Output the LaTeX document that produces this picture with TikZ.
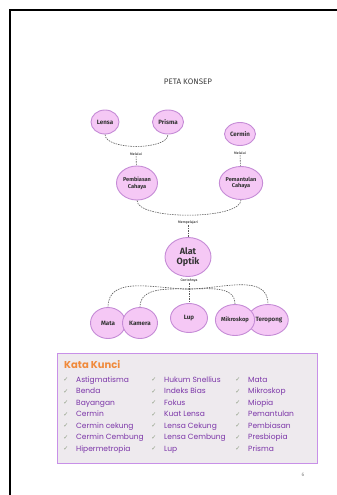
\documentclass[tikz,border=0pt]{standalone}
\usepackage{fontspec}
\setmainfont{Fira Sans}
\newfontfamily\comicfont{Poppins}
\newfontfamily\symfont{DejaVu Sans}
\usepackage{tikz}
\usetikzlibrary{shapes.geometric}
\definecolor{orchidfill}{HTML}{F5C8F5}
\definecolor{orchidline}{HTML}{C58BD6}
\definecolor{keygray}{HTML}{EEEAEE}
\definecolor{keyline}{HTML}{C890E8}
\definecolor{keypurple}{HTML}{7B35A8}
\definecolor{keyorange}{HTML}{F08A3C}
\definecolor{tickgray}{HTML}{8A9A80}

\begin{document}
\begin{tikzpicture}[x=1pt, y=-1pt,
    bubble/.style={ellipse, draw=orchidline, fill=orchidfill, line width=0.9pt,
        inner sep=0pt, align=center, text=black!80,
        font=\fontsize{6.2}{7}\selectfont\bfseries},
    link/.style={dash pattern=on 1.5pt off 1pt, line width=0.6pt, black!65},
    tag/.style={font=\fontsize{3.5}{4}\selectfont, inner sep=0.5pt},
    tickmark/.style={font=\symfont\fontsize{6}{7}\selectfont, text=tickgray,
        inner sep=0pt, text height=5pt, text depth=1.5pt},
    keyword/.style={font=\comicfont\fontsize{7.5}{9}\selectfont, text=keypurple,
        anchor=west, inner sep=0pt, text height=5.5pt, text depth=1.5pt}]

        \useasboundingbox (0,0) rectangle (337,495);

        % Page frame
        \draw[line width=2pt] (10,495)--(10,10)--(337,10);

        % Title
        \node[font=\fontsize{8}{9}\selectfont, text=black!75] (judul) at (188,82) {PETA KONSEP};

        % Top row
        \node[bubble, minimum width=28pt, minimum height=24pt] (lensa) at (105,122) {Lensa};
        \node[bubble, minimum width=31pt, minimum height=24pt] (prisma) at (168,122) {Prisma};
        \node[bubble, minimum width=31pt, minimum height=23pt] (cermin) at (240,134) {Cermin};

        % Light behaviour
        \node[bubble, minimum width=41pt, minimum height=34pt,
              font=\fontsize{5.6}{6.8}\selectfont\bfseries] (pembiasan) at (137,183) {Pembiasan\\Cahaya};
        \node[bubble, minimum width=39pt, minimum height=33pt,
              font=\fontsize{5.6}{6.8}\selectfont\bfseries] (pemantulan) at (241,183) {Pemantulan\\Cahaya};
        \node[tag] (melalui1) at (136,154) {Melalui};
        \node[tag] (melalui2) at (240,153) {Melalui};

        \draw[link] (lensa.south) .. controls +(0,16) and +(0,16) .. (prisma.south);
        \draw[link] (melalui1) -- (pembiasan);
        \draw[link] (melalui2) -- (pemantulan);

        % Alat optik
        \node[bubble, minimum width=46pt, minimum height=39pt,
              font=\fontsize{9}{10.5}\selectfont\bfseries] (alat) at (188,257) {Alat\\Optik};
        \node[tag] (mempelajari) at (188,223) {Mempelajari};
        \node[tag] (contohnya) at (189,281) {Contohnya};

        \draw[link] (pembiasan.south) .. controls +(0,20) and +(0,20) .. (pemantulan.south);
        \draw[link] (mempelajari) -- (alat);

        % Examples
        \node[bubble, minimum width=35pt, minimum height=31pt] (mata) at (108,323) {Mata};
        \node[bubble, minimum width=35pt, minimum height=31pt] (kamera) at (140,323) {Kamera};
        \node[bubble, minimum width=37pt, minimum height=29pt] (lup) at (189,318) {Lup};
        \node[bubble, minimum width=37pt, minimum height=31pt] (teropong) at (268,320) {\hspace*{2pt}Teropong};
        \node[bubble, minimum width=36pt, minimum height=31pt,
              font=\fontsize{5.8}{7}\selectfont\bfseries] (mikroskop) at (235,320) {Mikroskop};

        \coordinate (hub) at (189,289);
        \draw[link] (contohnya) -- (lup);
        \foreach \n in {mata, kamera}
            \draw[link] (hub) to[out=180, in=90] (\n.north);
        \foreach \n in {mikroskop, teropong}
            \draw[link] (hub) to[out=0, in=90] (\n.north);

        % Kata kunci
        \filldraw[draw=keyline, fill=keygray, line width=1pt] (57,353) rectangle (317,463);
        \node[font=\comicfont\fontsize{10}{12}\selectfont\bfseries, text=keyorange,
              anchor=west, inner sep=0pt] (katakunci) at (64,365) {Kata Kunci};

        \foreach \w [count=\i from 0] in {Astigmatisma, Benda, Bayangan, Cermin,
                Cermin cekung, Cermin Cembung, Hipermetropia} {
            \node[tickmark] (tickA\i) at (66,{380+11.5*\i}) {✓};
            \node[keyword] (wordA\i) at (76,{380+11.5*\i}) {\w};
        }
        \foreach \w [count=\i from 0] in {Hukum Snellius, Indeks Bias, Fokus, Kuat Lensa,
                Lensa Cekung, Lensa Cembung, Lup} {
            \node[tickmark] (tickB\i) at (154,{380+11.5*\i}) {✓};
            \node[keyword] (wordB\i) at (164,{380+11.5*\i}) {\w};
        }
        \foreach \w [count=\i from 0] in {Mata, Mikroskop, Miopia, Pemantulan,
                Pembiasan, Presbiopia, Prisma} {
            \node[tickmark] (tickC\i) at (238,{380+11.5*\i}) {✓};
            \node[keyword] (wordC\i) at (248,{380+11.5*\i}) {\w};
        }

        % Page number
        \node[font=\fontsize{5}{6}\selectfont, text=black!50] (halaman) at (303,475) {6};

\end{tikzpicture}
\end{document}
